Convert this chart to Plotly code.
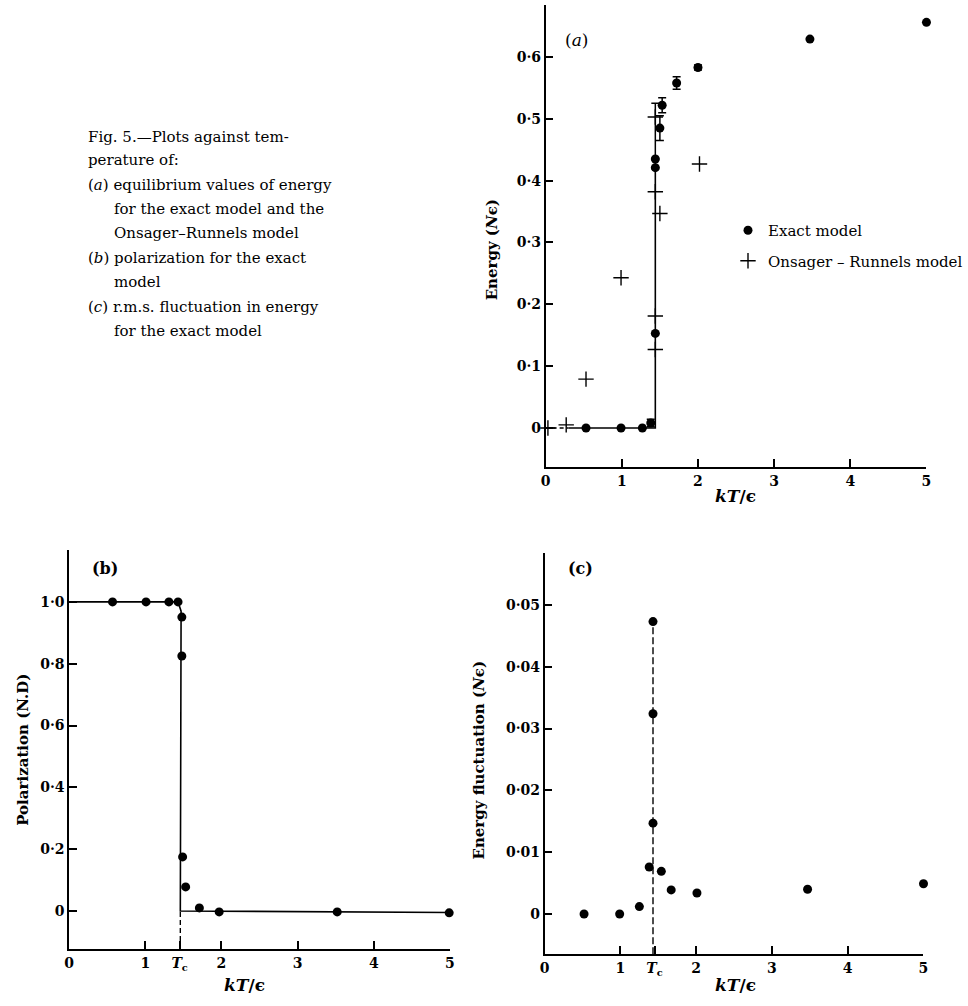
import plotly.graph_objects as go

# ---------------- data ----------------
TC = 1.45

# (a) energy vs temperature
a_exact_x = [0.53, 0.99, 1.27, 1.38, 1.44, 1.44, 1.44, 1.50, 1.53, 1.72, 2.0, 3.47, 5.0]
a_exact_y = [0.0, 0.0, 0.0, 0.008, 0.153, 0.421, 0.435, 0.485, 0.522, 0.558, 0.583, 0.629, 0.656]
a_err_plus = [0, 0, 0, 0.006, 0, 0, 0.09, 0.02, 0.012, 0.01, 0.004, 0, 0]
a_err_minus = [0, 0, 0, 0.006, 0, 0, 0, 0.02, 0.012, 0.01, 0.004, 0, 0]
a_or_x = [0.03, 0.27, 0.53, 0.99, 1.44, 1.44, 1.50, 1.44, 1.44, 2.02]
a_or_y = [0.0, 0.005, 0.079, 0.243, 0.127, 0.181, 0.347, 0.382, 0.503, 0.427]
a_line_x = [0.3, 1.44, 1.44]
a_line_y = [0.0, 0.0, 0.435]
a_dash_x = [0.0, 0.3]
a_dash_y = [0.0, 0.0]

# (b) polarization
b_x = [0.57, 1.01, 1.31, 1.43, 1.48, 1.48, 1.49, 1.53, 1.71, 1.97, 3.52, 4.99]
b_y = [1.0, 1.0, 1.0, 1.0, 0.951, 0.825, 0.175, 0.078, 0.01, -0.003, -0.003, -0.006]
b_line_x = [0.0, 1.43, 1.47, 1.46, 5.0]
b_line_y = [1.0, 1.0, 0.97, 0.0, -0.005]

# (c) r.m.s. energy fluctuation
c_x = [0.52, 0.99, 1.25, 1.38, 1.43, 1.43, 1.43, 1.54, 1.67, 2.01, 3.47, 5.0]
c_y = [0.0, 0.0, 0.0012, 0.0076, 0.0147, 0.0324, 0.0473, 0.0069, 0.0039, 0.0034, 0.004, 0.0049]

# tick labels
a_xticks = [0, 1, 2, 3, 4, 5]
a_xtext = ["0", "1", "2", "3", "4", "5"]
a_yticks = [0, 0.1, 0.2, 0.3, 0.4, 0.5, 0.6]
a_ytext = ["0", "0·1", "0·2", "0·3", "0·4", "0·5", "0·6"]
bc_xticks = [0, 1, TC, 2, 3, 4, 5]
bc_xtext = ["0", "1", "<i>T</i><sub>c</sub>", "2", "3", "4", "5"]
b_yticks = [0, 0.2, 0.4, 0.6, 0.8, 1.0]
b_ytext = ["0", "0·2", "0·4", "0·6", "0·8", "1·0"]
c_yticks = [0, 0.01, 0.02, 0.03, 0.04, 0.05]
c_ytext = ["0", "0·01", "0·02", "0·03", "0·04", "0·05"]

caption_lines = [
    ("Fig. 5.—Plots against tem-", 82, 137),
    ("perature of:", 82, 160),
    ("(<i>a</i>) equilibrium values of energy", 82, 185),
    ("for the exact model and the", 108, 209),
    ("Onsager–Runnels model", 108, 233),
    ("(<i>b</i>) polarization for the exact", 82, 258),
    ("model", 108, 282),
    ("(<i>c</i>) r.m.s. fluctuation in energy", 82, 307),
    ("for the exact model", 108, 331),
]

# ---------------- figure ----------------
W, H = 968, 1006
SERIF = "DejaVu Serif"
BLACK = "black"

fig = go.Figure()

dot = dict(symbol="circle", size=9, color=BLACK)
plus = dict(symbol="cross-thin", size=11, line=dict(color=BLACK, width=1.4), color=BLACK)

# panel a
fig.add_trace(go.Scatter(x=a_dash_x, y=a_dash_y, mode="lines", line=dict(color=BLACK, width=1.3, dash="4px,3px"),
                         showlegend=False, xaxis="x", yaxis="y", hoverinfo="skip"))
fig.add_trace(go.Scatter(x=a_line_x, y=a_line_y, mode="lines", line=dict(color=BLACK, width=1.6),
                         showlegend=False, xaxis="x", yaxis="y", hoverinfo="skip"))
fig.add_trace(go.Scatter(x=a_exact_x, y=a_exact_y, mode="markers", marker=dot, name="Exact model",
                         error_y=dict(type="data", symmetric=False, array=a_err_plus, arrayminus=a_err_minus,
                                      color=BLACK, thickness=1.5, width=4),
                         cliponaxis=False, xaxis="x", yaxis="y", legendgroup="e"))
fig.add_trace(go.Scatter(x=a_or_x, y=a_or_y, mode="markers", marker=plus, name="Onsager – Runnels model",
                         cliponaxis=False, xaxis="x", yaxis="y", legendgroup="o"))

# panel b
fig.add_trace(go.Scatter(x=b_line_x, y=b_line_y, mode="lines", line=dict(color=BLACK, width=1.6),
                         showlegend=False, xaxis="x2", yaxis="y2", hoverinfo="skip"))
fig.add_trace(go.Scatter(x=[TC + 0.01, TC + 0.01], y=[-0.123, 0.0], mode="lines",
                         line=dict(color=BLACK, width=1.4, dash="5px,3px"),
                         showlegend=False, xaxis="x2", yaxis="y2", hoverinfo="skip"))
fig.add_trace(go.Scatter(x=b_x, y=b_y, mode="markers", marker=dot, showlegend=False,
                         cliponaxis=False, xaxis="x2", yaxis="y2"))

# panel c
fig.add_trace(go.Scatter(x=[TC - 0.02, TC - 0.02], y=[-0.0065, c_y[6]], mode="lines",
                         line=dict(color=BLACK, width=1.4, dash="7px,3px"),
                         showlegend=False, xaxis="x3", yaxis="y3", hoverinfo="skip"))
fig.add_trace(go.Scatter(x=c_x, y=c_y, mode="markers", marker=dot, showlegend=False,
                         cliponaxis=False, xaxis="x3", yaxis="y3"))

tickfont = dict(family=SERIF, size=14, color=BLACK, weight="bold")
common = dict(showgrid=False, zeroline=False, showline=True, linecolor=BLACK, linewidth=1.6,
              ticks="inside", ticklen=8, tickwidth=1.5, tickcolor=BLACK, tickfont=tickfont,
              tickmode="array", fixedrange=True)


def px_x(p):
    return min(max(p / W, 0.0), 1.0)


def px_y(p):
    return min(max(1 - p / H, 0.0), 1.0)


fig.update_layout(
    width=W, height=H,
    margin=dict(l=0, r=0, t=0, b=0),
    paper_bgcolor="white", plot_bgcolor="white",
    xaxis=dict(domain=[px_x(548), px_x(934)], range=[0, 5], anchor="y",
               tickvals=a_xticks, ticktext=a_xtext, **common),
    yaxis=dict(domain=[px_y(467), px_y(5)], range=[-0.0631, 0.6841], anchor="x",
               tickvals=a_yticks, ticktext=a_ytext, **common),
    xaxis2=dict(domain=[px_x(65), px_x(451)], range=[0, 5], anchor="y2",
                tickvals=bc_xticks, ticktext=bc_xtext, **common),
    yaxis2=dict(domain=[px_y(949), px_y(550)], range=[-0.123, 1.168], anchor="x2",
                tickvals=b_yticks, ticktext=b_ytext, **common),
    xaxis3=dict(domain=[px_x(547), px_x(931)], range=[0, 5], anchor="y3",
                tickvals=bc_xticks, ticktext=bc_xtext, **common),
    yaxis3=dict(domain=[px_y(954), px_y(553)], range=[-0.00647, 0.0584], anchor="x3",
                tickvals=c_yticks, ticktext=c_ytext, **common),
    showlegend=True,
    legend=dict(x=px_x(733), y=px_y(214), xanchor="left", yanchor="top",
                font=dict(family=SERIF, size=15, color=BLACK),
                bgcolor="rgba(0,0,0,0)", tracegroupgap=8, itemwidth=30),
)

ann = []
titlefont = dict(family=SERIF, size=15, color=BLACK, weight="bold")
xtfont = dict(family=SERIF, size=17, color=BLACK, weight="bold")


def text_at(t, x, y, font, angle=0, xanchor="center"):
    ann.append(dict(text=t, x=px_x(x), y=px_y(y), xref="paper", yref="paper", showarrow=False,
                    xanchor=xanchor, yanchor="middle", textangle=angle, font=font))


# axis titles
text_at("Energy (<i>N</i>ϵ)", 494, 250, titlefont, angle=-90)
text_at("<i>kT</i>/ϵ", 740, 496, xtfont)
text_at("Polarization (N.D)", 18, 750, titlefont, angle=-90)
text_at("<i>kT</i>/ϵ", 243, 985, xtfont)
text_at("Energy fluctuation (<i>N</i>ϵ)", 480, 760, titlefont, angle=-90)
text_at("<i>kT</i>/ϵ", 740, 985, xtfont)

# panel letters
text_at("(<i>a</i>)", 579, 40, dict(family=SERIF, size=17, color=BLACK))
text_at("(b)", 101, 568, dict(family=SERIF, size=16, color=BLACK, weight="bold"))
text_at("(c)", 583, 568, dict(family=SERIF, size=16, color=BLACK, weight="bold"))

# caption
capfont = dict(family=SERIF, size=15, color=BLACK)
for t, x, y in caption_lines:
    text_at(t, x, y, capfont, xanchor="left")

fig.update_layout(annotations=ann)
fig.write_html("out.html", config={"displayModeBar": False},
               post_script="document.body.style.margin='0px';")
